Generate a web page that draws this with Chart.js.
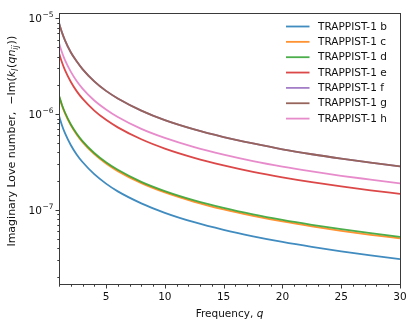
<!DOCTYPE html>
<html>
<head>
<meta charset="utf-8">
<script src="https://cdn.jsdelivr.net/npm/chart.js@4.4.1/dist/chart.umd.min.js"></script>
<style>
  html, body { margin: 0; padding: 0; background: #fff; }
  #wrap { width: 415px; height: 328px; }
</style>
</head>
<body>
<div id="wrap"><canvas id="loveChart" width="415" height="328"></canvas></div>
<script>
// frequency samples, q
const qValues = [1, 1.25, 1.5, 2, 2.5, 3, 4, 5, 6, 8, 10, 12.5, 15, 17.5, 20, 22.5, 25, 27.5, 30];

// -Im(k_l), in units of 1e-7
const planetB = [9.6, 7.66, 6.37, 4.76, 3.79, 3.16, 2.36, 1.88, 1.56, 1.17, 0.932, 0.743, 0.618, 0.529, 0.462, 0.410, 0.368, 0.334, 0.306];
const planetC = [15.4, 12.3, 10.25, 7.67, 6.13, 5.10, 3.82, 3.05, 2.54, 1.90, 1.52, 1.215, 1.01, 0.865, 0.756, 0.672, 0.604, 0.549, 0.503];
const planetD = [15.7, 12.56, 10.47, 7.85, 6.28, 5.23, 3.93, 3.14, 2.62, 1.96, 1.57, 1.256, 1.047, 0.897, 0.785, 0.698, 0.628, 0.571, 0.523];
const planetE = [43.5, 34.8, 29.0, 21.8, 17.4, 14.5, 10.9, 8.72, 7.28, 5.46, 4.37, 3.50, 2.92, 2.50, 2.19, 1.95, 1.76, 1.60, 1.47];
const planetF = [89.5, 71.5, 59.5, 44.3, 35.7, 29.6, 22.0, 17.5, 14.6, 10.9, 8.66, 6.93, 5.77, 4.94, 4.29, 3.81, 3.43, 3.12, 2.84];
const planetG = [89.5, 71.5, 59.5, 44.3, 35.7, 29.6, 22.0, 17.5, 14.6, 10.9, 8.66, 6.93, 5.77, 4.94, 4.29, 3.81, 3.43, 3.12, 2.84];
const planetH = [55.3, 44.3, 36.9, 27.8, 22.2, 18.5, 13.9, 11.2, 9.33, 7.01, 5.64, 4.52, 3.77, 3.23, 2.83, 2.52, 2.27, 2.07, 1.89];

const seriesNames = ['TRAPPIST-1 b', 'TRAPPIST-1 c', 'TRAPPIST-1 d', 'TRAPPIST-1 e', 'TRAPPIST-1 f', 'TRAPPIST-1 g', 'TRAPPIST-1 h'];
const seriesValues = [planetB, planetC, planetD, planetE, planetF, planetG, planetH];
const seriesColors = ['rgba(31,119,180,0.85)', 'rgba(255,127,14,0.85)', 'rgba(44,160,44,0.85)', 'rgba(214,39,40,0.85)',
                      'rgba(148,103,189,0.85)', 'rgb(150,100,90)', 'rgba(227,119,194,0.85)'];

// axis ticks
const xTickValues = [5, 10, 15, 20, 25, 30];
const xTickLabels = ['5', '10', '15', '20', '25', '30'];
const yTickValues = [1e-7, 1e-6, 1e-5];
const yTickExponents = ['\u22127', '\u22126', '\u22125'];

const FONT = '"DejaVu Sans", sans-serif';
const AXIS_COLOR = '#3a3a3a';

const datasets = seriesValues.map((vals, i) => ({
  label: seriesNames[i],
  data: qValues.map((q, j) => ({ x: q, y: vals[j] * 1e-7 })),
  borderColor: seriesColors[i],
  borderWidth: 1.8,
  pointRadius: 0,
  cubicInterpolationMode: 'monotone',
  fill: false,
  order: -i // later series on top, like matplotlib
}));

// draws the frame, tick marks, tick labels, axis titles
const axesPlugin = {
  id: 'axesPlugin',
  afterDatasetsDraw(chart) {
    const ctx = chart.ctx;
    const a = chart.chartArea;
    const xs = chart.scales.x;
    const ys = chart.scales.y;
    ctx.save();
    ctx.strokeStyle = AXIS_COLOR;
    ctx.lineWidth = 1;
    ctx.strokeRect(Math.round(a.left) + 0.5, Math.round(a.top) + 0.5,
      Math.round(a.right - a.left), Math.round(a.bottom - a.top));

    const bottom = Math.round(a.bottom) + 0.5;
    const left = Math.round(a.left) + 0.5;

    ctx.beginPath();
    // x minor ticks on every integer
    for (let q = Math.ceil(xs.min); q <= xs.max; q++) {
      const px = Math.round(xs.getPixelForValue(q)) + 0.5;
      const len = xTickValues.includes(q) ? 4 : 2.2;
      ctx.moveTo(px, bottom);
      ctx.lineTo(px, bottom + len);
    }
    // y ticks: 1..9 x 10^n
    for (let n = -9; n <= -4; n++) {
      for (let m = 1; m <= 9; m++) {
        const v = m * Math.pow(10, n);
        if (v < ys.min || v > ys.max) continue;
        const py = Math.round(ys.getPixelForValue(v)) + 0.5;
        const len = m === 1 ? 4 : 2.2;
        ctx.moveTo(left, py);
        ctx.lineTo(left - len, py);
      }
    }
    ctx.stroke();

    ctx.fillStyle = '#111';
    ctx.font = '10.5px ' + FONT;
    ctx.textAlign = 'center';
    ctx.textBaseline = 'top';
    xTickValues.forEach((q, i) => {
      ctx.fillText(xTickLabels[i], xs.getPixelForValue(q), bottom + 8);
    });

    yTickValues.forEach((v, i) => {
      const py = ys.getPixelForValue(v);
      ctx.font = '7.5px ' + FONT;
      ctx.textAlign = 'right';
      ctx.textBaseline = 'alphabetic';
      const expW = ctx.measureText(yTickExponents[i]).width;
      const right = left - 6;
      ctx.fillText(yTickExponents[i], right, py - 1);
      ctx.font = '10.5px ' + FONT;
      ctx.fillText('10', right - expW - 0.5, py + 4);
    });

    // x title
    ctx.textBaseline = 'alphabetic';
    ctx.textAlign = 'left';
    const cx = (a.left + a.right) / 2;
    ctx.font = '10.5px ' + FONT;
    const t1 = 'Frequency, ';
    const w1 = ctx.measureText(t1).width;
    ctx.font = 'italic 10.5px ' + FONT;
    const w2 = ctx.measureText('q').width;
    let sx = cx - (w1 + w2) / 2;
    ctx.font = '10.5px ' + FONT;
    ctx.fillText(t1, sx, 317);
    ctx.font = 'italic 10.5px ' + FONT;
    ctx.fillText('q', sx + w1, 317);

    // y title as runs: [text, italic, subscript]
    const runs = [
      ['Imaginary Love number,  \u2212Im(', false, false],
      ['k', true, false],
      ['l', true, true],
      ['(', false, false],
      ['qn', true, false],
      ['ij', true, true],
      ['))', false, false]
    ];
    const fontFor = r => (r[1] ? 'italic ' : '') + (r[2] ? '8px ' : '11px ') + FONT;
    let total = 0;
    runs.forEach(r => { ctx.font = fontFor(r); total += ctx.measureText(r[0]).width; });
    ctx.translate(15, 142);
    ctx.rotate(-Math.PI / 2);
    let x0 = -total / 2;
    runs.forEach(r => {
      ctx.font = fontFor(r);
      ctx.fillText(r[0], x0, r[2] ? 2.5 : 0);
      x0 += ctx.measureText(r[0]).width + (r[2] ? 0.8 : 0);
    });
    ctx.restore();
  },
  afterDraw(chart) {
    // legend in upper right, no frame
    const ctx = chart.ctx;
    const a = chart.chartArea;
    ctx.save();
    ctx.font = '10.5px ' + FONT;
    ctx.textBaseline = 'middle';
    ctx.textAlign = 'left';
    chart.data.datasets.forEach((ds, i) => {
      const y = a.top + 13.5 + i * 15.35;
      const lx = a.right - 114;
      ctx.strokeStyle = ds.borderColor;
      ctx.lineWidth = 1.8;
      ctx.beginPath();
      ctx.moveTo(lx, y);
      ctx.lineTo(lx + 23.5, y);
      ctx.stroke();
      ctx.fillStyle = '#111';
      ctx.fillText(ds.label, lx + 32, y + 0.5);
    });
    ctx.restore();
  }
};

new Chart(document.getElementById('loveChart'), {
  type: 'line',
  data: { datasets },
  options: {
    responsive: false,
    animation: false,
    events: [],
    layout: { padding: { left: 0, right: 15, top: 13, bottom: 0 } },
    plugins: { legend: { display: false }, tooltip: { enabled: false } },
    scales: {
      x: {
        type: 'linear',
        min: 1,
        max: 30,
        grid: { display: false },
        border: { display: false },
        ticks: { display: false },
        afterFit(scale) { scale.height = 44; }
      },
      y: {
        type: 'logarithmic',
        min: 1.68e-8,
        max: 1.14e-5,
        grid: { display: false },
        border: { display: false },
        ticks: { display: false },
        afterFit(scale) { scale.width = 59; }
      }
    }
  },
  plugins: [axesPlugin]
});
</script>
</body>
</html>
